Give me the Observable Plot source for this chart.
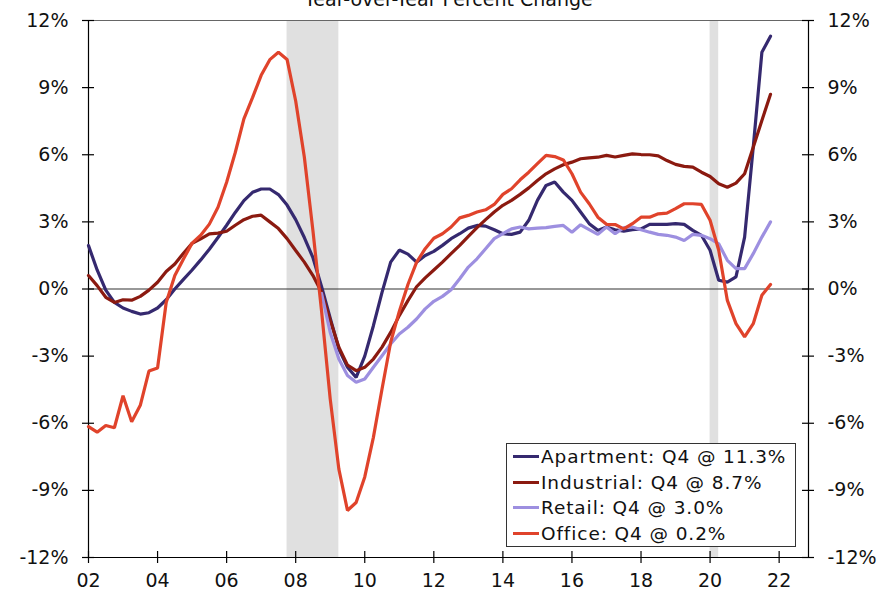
<!DOCTYPE html>
<html>
<head>
<meta charset="utf-8">
<script src="https://cdn.jsdelivr.net/npm/d3@7"></script>
<script src="https://cdn.jsdelivr.net/npm/@observablehq/plot@0.6"></script>
<style>
  html, body { margin: 0; padding: 0; background: white; overflow: hidden; }
  #wrap { position: relative; width: 880px; height: 590px; overflow: hidden; font-family: "DejaVu Sans", Verdana, sans-serif; }
  #legend { position: absolute; left: 506px; top: 443px; width: 290px; box-sizing: border-box; border: 1.5px solid #333; background: white; padding: 0 0 0 6px; }
  .row { height: 25.6px; line-height: 25.6px; font-size: 18.5px; letter-spacing: 0.9px; color: #111; white-space: nowrap; display: flex; align-items: center; }
  .swatch { display: inline-block; width: 26px; height: 3px; margin-right: 2px; }
  svg text.lbl { letter-spacing: 0.8px; }
</style>
</head>
<body>
<div id="wrap"><div id="legend"></div></div>
<script>
const title = "Year-over-Year Percent Change";
const seriesNames = ["Apartment", "Industrial", "Retail", "Office"];
const seriesColors = ["#35296f", "#8b1a10", "#9d8fe0", "#e0432b"];
const legendLabels = ["Apartment: Q4 @ 11.3%", "Industrial: Q4 @ 8.7%", "Retail: Q4 @ 3.0%", "Office: Q4 @ 0.2%"];
const firstQuarter = 2002;   // 2002 Q1
const xTicks = [2002, 2004, 2006, 2008, 2010, 2012, 2014, 2016, 2018, 2020, 2022];
const yTicks = [-12, -9, -6, -3, 0, 3, 6, 9, 12];
const xDomain = [2002, 2022.85];
const yDomain = [-12, 12];
const recessions = [{start: 2007.75, end: 2009.25}, {start: 2020.0, end: 2020.25}];

const apartment = [1.94,0.85,-0.05,-0.6,-0.85,-1.0,-1.12,-1.06,-0.85,-0.48,
  0.0,0.43,0.85,1.3,1.78,2.3,2.85,3.42,3.95,4.32,
  4.47,4.47,4.22,3.75,3.1,2.3,1.4,0.1,-1.3,-2.68,
  -3.5,-3.95,-3.0,-1.64,-0.15,1.2,1.74,1.56,1.2,1.5,
  1.68,1.95,2.25,2.47,2.72,2.84,2.81,2.65,2.47,2.44,
  2.54,3.07,3.96,4.63,4.78,4.33,3.96,3.44,2.92,2.62,
  2.77,2.65,2.59,2.65,2.69,2.89,2.89,2.89,2.92,2.89,
  2.62,2.4,1.73,0.39,0.31,0.54,2.32,6.34,10.58,11.3];
const industrial = [0.6,0.15,-0.37,-0.6,-0.48,-0.5,-0.33,-0.05,0.3,0.78,
  1.12,1.6,2.04,2.24,2.46,2.5,2.58,2.85,3.1,3.25,
  3.3,3.0,2.7,2.25,1.72,1.2,0.6,-0.15,-1.4,-2.6,
  -3.4,-3.65,-3.5,-3.13,-2.6,-1.94,-1.19,-0.52,0.1,0.5,
  0.85,1.2,1.58,1.95,2.35,2.74,3.1,3.44,3.74,3.96,
  4.23,4.52,4.85,5.15,5.37,5.55,5.67,5.82,5.86,5.89,
  5.97,5.9,5.97,6.04,6.01,6.0,5.95,5.74,5.57,5.48,
  5.45,5.22,5.03,4.7,4.55,4.73,5.15,6.34,7.53,8.7];
const retail = [null,null,null,null,null,null,null,null,null,null,
  null,null,null,null,null,null,null,null,null,null,
  null,null,null,null,null,null,null,-0.2,-1.94,-3.13,
  -3.87,-4.17,-4.02,-3.5,-2.98,-2.46,-2.01,-1.71,-1.34,-0.89,
  -0.55,-0.33,-0.03,0.46,0.98,1.35,1.8,2.25,2.47,2.69,
  2.77,2.69,2.72,2.74,2.8,2.84,2.54,2.87,2.65,2.44,
  2.77,2.47,2.74,2.77,2.65,2.54,2.44,2.4,2.32,2.17,
  2.44,2.4,2.25,2.02,1.28,0.91,0.91,1.58,2.32,3.0];
const office = [-6.15,-6.4,-6.1,-6.2,-4.77,-5.93,-5.2,-3.67,-3.53,-0.6,
  0.6,1.34,2.05,2.4,2.9,3.65,4.77,6.1,7.6,8.55,
  9.55,10.25,10.58,10.26,8.4,5.9,2.6,-1.0,-4.92,-8.05,
  -9.9,-9.54,-8.4,-6.63,-4.47,-2.38,-1.0,0.2,1.19,1.8,
  2.27,2.47,2.77,3.18,3.29,3.44,3.54,3.78,4.23,4.48,
  4.88,5.22,5.6,5.97,5.92,5.77,5.15,4.33,3.81,3.21,
  2.89,2.88,2.69,2.92,3.21,3.21,3.36,3.39,3.59,3.81,
  3.81,3.78,3.07,1.73,-0.51,-1.55,-2.14,-1.55,-0.28,0.2];

const seriesValues = [apartment, industrial, retail, office];
const rows = [];
seriesValues.forEach((vals, s) => {
  vals.forEach((v, i) => rows.push({series: seriesNames[s], t: firstQuarter + i / 4, v}));
});

const chart = Plot.plot({
  width: 880,
  height: 600,
  marginLeft: 88,
  marginRight: 72,
  marginTop: 20,
  marginBottom: 43,
  x: {domain: xDomain, axis: null},
  y: {domain: yDomain, axis: null},
  color: {domain: seriesNames, range: seriesColors},
  style: {fontFamily: "DejaVu Sans, Verdana, sans-serif", background: "white", overflow: "hidden"},
  marks: [
    Plot.rect(recessions, {x1: "start", x2: "end", fill: "#e0e0e0"}),
    Plot.ruleY([yDomain[1]], {stroke: "#666", strokeWidth: 1.2}),
    Plot.ruleY([0], {stroke: "#333", strokeWidth: 1.2}),
    Plot.ruleY([yDomain[0]], {stroke: "#000", strokeWidth: 1.2}),
    Plot.ruleX([xDomain[0], xDomain[1]], {stroke: "#000", strokeWidth: 1.2}),
    Plot.ruleX(xTicks, {x: d => d, y1: yDomain[0], y2: yDomain[0], insetTop: -6, insetBottom: -6, stroke: "#000", strokeWidth: 1.2}),
    Plot.ruleY(yTicks, {y: d => d, x1: xDomain[0], x2: xDomain[0], insetLeft: -6, insetRight: -6, stroke: "#000", strokeWidth: 1.2}),
    Plot.ruleY(yTicks, {y: d => d, x1: xDomain[1], x2: xDomain[1], insetLeft: -6, insetRight: -6, stroke: "#000", strokeWidth: 1.2}),
    Plot.line(rows, {x: "t", y: "v", z: "series", stroke: "series", strokeWidth: 3.2, strokeLinejoin: "miter"}),
    Plot.text(yTicks, {y: d => d, frameAnchor: "left", dx: -20, textAnchor: "end", text: d => d + "%", fontSize: 19, fill: "#111", className: "lbl"}),
    Plot.text(yTicks, {y: d => d, frameAnchor: "right", dx: 19, textAnchor: "start", text: d => d + "%", fontSize: 19, fill: "#111", className: "lbl"}),
    Plot.text(xTicks, {x: d => d, frameAnchor: "bottom", dy: 16, lineAnchor: "top", text: d => String(d).slice(2), fontSize: 19, fill: "#111", className: "lbl"}),
    Plot.text([title], {frameAnchor: "top", dy: -15, lineAnchor: "bottom", text: d => d, fontSize: 19, fill: "#111", className: "lbl"})
  ]
});

const wrap = document.getElementById("wrap");
wrap.insertBefore(chart, wrap.firstChild);

const legend = document.getElementById("legend");
seriesNames.forEach((name, i) => {
  const row = document.createElement("div");
  row.className = "row";
  const sw = document.createElement("span");
  sw.className = "swatch";
  sw.style.background = seriesColors[i];
  row.appendChild(sw);
  row.appendChild(document.createTextNode(legendLabels[i]));
  legend.appendChild(row);
});
</script>
</body>
</html>
